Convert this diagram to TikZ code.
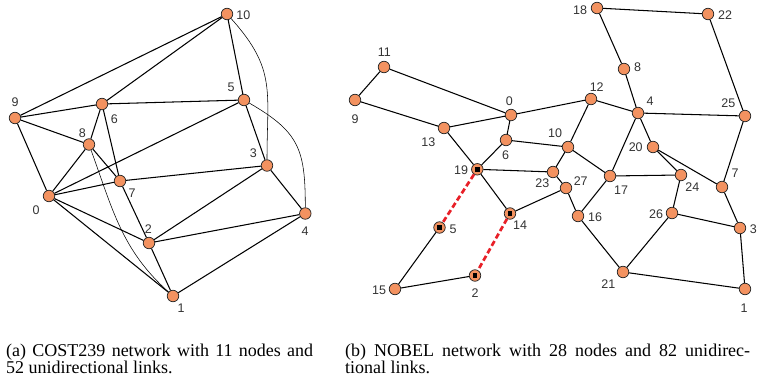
\documentclass[tikz,border=0pt]{standalone}
\usepackage{fontspec}
\setmainfont{Liberation Serif}
\newfontfamily\lblfont{Liberation Sans}
\definecolor{nodeor}{RGB}{243,146,96}
\definecolor{linkred}{RGB}{232,32,40}
\begin{document}
\begin{tikzpicture}[x=1pt,y=1pt,
  nd/.style={circle,draw=black!85,fill=nodeor,line width=0.75pt,minimum size=11.5pt,inner sep=0pt},
  mk/.style={nd,path picture={\fill[black] ([shift={(-2.3pt,-2.3pt)}]path picture bounding box.center) rectangle ([shift={(2.3pt,2.3pt)}]path picture bounding box.center);}},
  lbl/.style={font=\lblfont\fontsize{12.5}{14}\selectfont,text=black!80,inner sep=0pt},
  lk/.style={line width=1.05pt,black},
  arclk/.style={line width=0.55pt,black},
  fail/.style={line width=2.7pt,linkred,dash pattern=on 5.5pt off 3pt},
  captext/.style={anchor=base west,inner sep=0pt,align=justify,font=\fontsize{18}{17}\selectfont}
]
\path[use as bounding box] (0,0) rectangle (762,-380);

% ---------- (a) COST239 ----------
\node[nd] (a0) at (49,-196) {};
\node[nd] (a1) at (173,-296) {};
\node[nd] (a2) at (149,-243) {};
\node[nd] (a3) at (267,-165.5) {};
\node[nd] (a4) at (305.3,-213.5) {};
\node[nd] (a5) at (244,-100) {};
\node[nd] (a6) at (102,-104) {};
\node[nd] (a7) at (120,-181) {};
\node[nd] (a8) at (89,-144.5) {};
\node[nd] (a9) at (15,-118) {};
\node[nd] (a10) at (227,-14) {};

\foreach \u/\v in {a10/a9,a10/a6,a10/a5,a9/a6,a9/a8,a9/a0,a6/a5,a6/a8,a6/a7,a5/a0,a5/a3,
  a8/a0,a8/a7,a7/a0,a7/a3,a7/a2,a0/a2,a0/a1,a3/a2,a3/a4,a2/a4,a2/a1,a4/a1}
  \draw[lk] (\u) -- (\v);
\draw[arclk] (a10) to[out=-48,in=90,looseness=1.2] (a3);
\draw[arclk] (a5) to[out=-30,in=90,looseness=1.25] (a4);
\draw[arclk] (a8) to[out=-70,in=138] (a1);

\node[lbl] (la0) at (36,-210) {0};
\node[lbl] (la1) at (181,-308.3) {1};
\node[lbl] (la2) at (148.3,-228.7) {2};
\node[lbl] (la3) at (253.3,-153) {3};
\node[lbl] (la4) at (305,-231) {4};
\node[lbl] (la5) at (231,-87.3) {5};
\node[lbl] (la6) at (114.3,-118.7) {6};
\node[lbl] (la7) at (132,-192.7) {7};
\node[lbl] (la8) at (82.3,-132.7) {8};
\node[lbl] (la9) at (15,-101.7) {9};
\node[lbl] (la10) at (243.3,-14.7) {10};

% ---------- (b) NOBEL ----------
\node[nd] (b0) at (511,-115) {};
\node[nd] (b1) at (745,-289) {};
\node[mk] (b2) at (475,-275.5) {};
\node[nd] (b3) at (740,-228) {};
\node[nd] (b4) at (638,-113) {};
\node[mk] (b5) at (439.5,-227.5) {};
\node[nd] (b6) at (506,-140) {};
\node[nd] (b7) at (722,-187) {};
\node[nd] (b8) at (624,-69) {};
\node[nd] (b9) at (355,-100) {};
\node[nd] (b10) at (568,-147) {};
\node[nd] (b11) at (384,-67) {};
\node[nd] (b12) at (591,-99) {};
\node[nd] (b13) at (444,-128) {};
\node[mk] (b14) at (510,-213.5) {};
\node[nd] (b15) at (395,-289) {};
\node[nd] (b16) at (578,-216) {};
\node[nd] (b17) at (610,-176) {};
\node[nd] (b18) at (597,-8) {};
\node[mk] (b19) at (477.3,-169.3) {};
\node[nd] (b20) at (653,-147) {};
\node[nd] (b21) at (623,-272) {};
\node[nd] (b22) at (708,-14) {};
\node[nd] (b23) at (553,-172) {};
\node[nd] (b24) at (681,-175) {};
\node[nd] (b25) at (745,-116) {};
\node[nd] (b26) at (672,-213) {};
\node[nd] (b27) at (566,-188) {};

\foreach \u/\v in {b18/b22,b18/b8,b22/b25,b11/b9,b11/b0,b9/b13,b13/b0,b13/b19,b0/b12,b0/b6,
  b12/b4,b12/b10,b8/b4,b4/b25,b4/b17,b4/b20,b25/b7,b6/b10,b6/b19,b10/b23,b10/b17,
  b20/b24,b20/b7,b19/b23,b19/b14,b23/b27,b17/b24,b17/b16,b24/b26,b27/b14,b27/b16,
  b7/b3,b16/b21,b26/b3,b26/b21,b5/b15,b3/b1,b2/b15,b21/b1}
  \draw[lk] (\u) -- (\v);
\draw[fail] (b19) -- (b5);
\draw[fail] (b14) -- (b2);

\node[lbl] (lb0) at (509.3,-100.7) {0};
\node[lbl] (lb1) at (744,-308) {1};
\node[lbl] (lb2) at (475,-293) {2};
\node[lbl] (lb3) at (753.3,-229.3) {3};
\node[lbl] (lb4) at (650,-101) {4};
\node[lbl] (lb5) at (453,-229) {5};
\node[lbl] (lb6) at (505.7,-155) {6};
\node[lbl] (lb7) at (735,-173.3) {7};
\node[lbl] (lb8) at (637.7,-66.7) {8};
\node[lbl] (lb9) at (355,-119.3) {9};
\node[lbl] (lb10) at (555,-133.3) {10};
\node[lbl] (lb11) at (384.3,-51.7) {11};
\node[lbl] (lb12) at (596.7,-87.3) {12};
\node[lbl] (lb13) at (428.3,-142.3) {13};
\node[lbl] (lb14) at (520,-225.3) {14};
\node[lbl] (lb15) at (379,-290.7) {15};
\node[lbl] (lb16) at (595,-217.3) {16};
\node[lbl] (lb17) at (621,-190) {17};
\node[lbl] (lb18) at (580,-10) {18};
\node[lbl] (lb19) at (461,-170.3) {19};
\node[lbl] (lb20) at (635.7,-147.3) {20};
\node[lbl] (lb21) at (608.3,-284.3) {21};
\node[lbl] (lb22) at (725,-15) {22};
\node[lbl] (lb23) at (542.3,-182.7) {23};
\node[lbl] (lb24) at (692.3,-187.3) {24};
\node[lbl] (lb25) at (728.3,-103.3) {25};
\node[lbl] (lb26) at (656,-214) {26};
\node[lbl] (lb27) at (580.7,-180.7) {27};

% ---------- captions ----------
\node[captext,text width=307pt] (capa) at (6,-356)
  {(a) COST239 network with 11 nodes and\linebreak 52 unidirectional links.};
\node[captext,text width=405pt] (capb) at (345,-356)
  {(b) NOBEL network with 28 nodes and 82 unidirec-\linebreak tional links.};
\end{tikzpicture}
\end{document}
